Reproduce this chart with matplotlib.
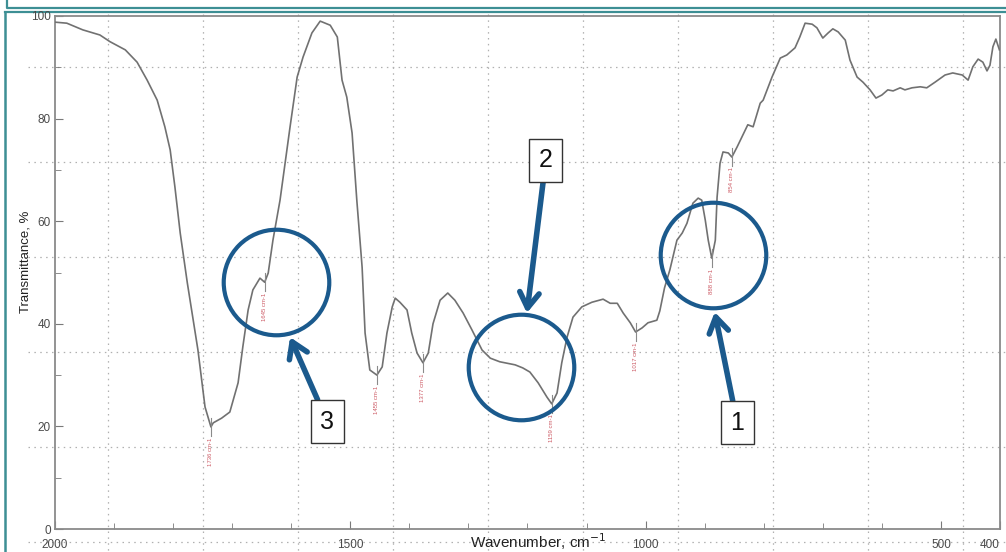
import numpy as np
import matplotlib
matplotlib.use("Agg")
import matplotlib.pyplot as plt
from matplotlib.ticker import MultipleLocator, FixedLocator

plt.rcParams['font.family'] = ['Liberation Sans', 'DejaVu Sans']

# FTIR spectrum, wavenumber (cm-1) vs transmittance (%)
wavenumber = [2000, 1980, 1953, 1924, 1907, 1881, 1861, 1844, 1827, 1814, 1805, 1797,
              1788, 1776, 1758, 1746, 1736, 1732, 1718, 1704, 1690, 1682, 1673, 1665,
              1653, 1645, 1639, 1631, 1619, 1602, 1590, 1580, 1565, 1551, 1534, 1522,
              1514, 1506, 1497, 1489, 1480, 1475, 1467, 1455, 1446, 1438, 1429, 1424,
              1416, 1404, 1396, 1387, 1377, 1368, 1360, 1348, 1335, 1323, 1309, 1294,
              1277, 1263, 1247, 1221, 1208, 1196, 1182, 1167, 1159, 1150, 1142, 1133,
              1123, 1108, 1091, 1072, 1060, 1048, 1038, 1026, 1017, 1006, 996, 981,
              976, 968, 959, 947, 938, 930, 920, 911, 905, 899, 894, 888, 882, 879,
              874, 869, 860, 854, 845, 837, 827, 818, 806, 801, 786, 772, 761, 747,
              739, 730, 718, 710, 700, 691, 683, 674, 662, 654, 642, 632, 620, 610,
              600, 590, 581, 569, 561, 549, 535, 524, 510, 493, 480, 464, 454, 446,
              437, 429, 422, 417, 412, 407, 401]
transmittance = [98.8, 98.6, 97.3, 96.3, 95.0, 93.4, 91.0, 87.5, 83.6, 78.4, 73.9, 66.7,
                 57.7, 48.0, 34.9, 23.8, 19.9, 20.7, 21.6, 22.8, 28.5, 35.5, 42.7, 46.6,
                 48.9, 48.1, 49.9, 56.3, 64.1, 78.4, 88.1, 92.0, 96.7, 99.0, 98.2, 95.9,
                 87.5, 84.2, 77.2, 64.1, 51.0, 38.2, 31.0, 30.0, 31.6, 38.2, 43.3, 45.0,
                 44.2, 42.7, 38.2, 34.3, 32.4, 34.3, 40.0, 44.6, 46.0, 44.6, 42.1, 38.8,
                 34.9, 33.3, 32.6, 32.0, 31.4, 30.6, 28.5, 25.7, 24.4, 26.5, 32.4, 37.4,
                 41.3, 43.3, 44.2, 44.8, 44.0, 44.0, 42.1, 40.2, 38.4, 39.2, 40.2, 40.7,
                 42.5, 47.0, 50.5, 56.3, 57.7, 59.6, 63.5, 64.5, 64.1, 60.2, 56.3, 52.8, 56.3, 64.7,
                 71.3, 73.5, 73.3, 72.5, 74.5, 76.4, 78.8, 78.4, 83.0, 83.6, 88.1, 91.8, 92.4, 93.8,
                 95.9, 98.6, 98.4, 97.7, 95.7, 96.7, 97.5, 96.9, 95.3, 91.4, 88.1, 87.1, 85.6, 84.0,
                 84.6, 85.6, 85.4, 86.0, 85.6, 86.0, 86.2, 86.0, 87.1, 88.5, 88.9, 88.5, 87.5, 90.1,
                 91.6, 91.0, 89.3, 90.4, 94.0, 95.5, 93.4]

# labelled absorption bands
peaks = [1736, 1645, 1455, 1377, 1159, 1017, 888, 854]
peak_labels = ['1736 cm-1', '1645 cm-1', '1455 cm-1', '1377 cm-1',
               '1159 cm-1', '1017 cm-1', '888 cm-1', '854 cm-1']

# circled regions and their numbered call-outs
circle_centers = [(886, 53.4), (1211, 31.6), (1626, 48.1)]
box_numbers = ['1', '2', '3']
box_centers = [(845, 20.7), (1169, 71.9), (1539, 20.9)]
arrow_tips = [(883, 42.3), (1201, 42.1), (1602, 37.4)]

W, H = 1006, 552
fig = plt.figure(figsize=(W / 100, H / 100), dpi=100, facecolor='white')

# background layer in pixel units: teal frame and dotted overlay grid
bg = fig.add_axes([0, 0, 1, 1], zorder=0)
bg.set_xlim(0, W)
bg.set_ylim(H, 0)
bg.axis('off')
teal = '#3d8f94'
bg.plot([7, 7, W], [0, 8, 8], color=teal, lw=1.6, solid_capstyle='butt')
bg.plot([5, W], [11.5, 11.5], color=teal, lw=1.6)
bg.plot([5, 5], [11.5, H], color=teal, lw=1.8)
grid_kw = dict(color='#b0b0b0', lw=0.9, ls=(0, (1.2, 3.5)))
for gx in np.arange(108, W, 95):
    bg.plot([gx, gx], [14, H], **grid_kw)
for gy in np.arange(67, H, 95):
    bg.plot([28, W], [gy, gy], **grid_kw)

ax = fig.add_axes([55 / W, 23 / H, 945 / W, 513 / H], zorder=1)
ax.set_facecolor('none')
ax.plot(wavenumber, transmittance, color='#717171', lw=1.2, zorder=3)
ax.set_xlim(2000, 400)
ax.set_ylim(0, 100)

for s in ax.spines.values():
    s.set_color('#8a8a8a')
    s.set_linewidth(1.3)

ax.xaxis.set_major_locator(FixedLocator([2000, 1500, 1000, 500, 400]))
ax.xaxis.set_minor_locator(MultipleLocator(100))
ax.yaxis.set_major_locator(MultipleLocator(20))
ax.yaxis.set_minor_locator(MultipleLocator(10))
ax.tick_params(which='both', direction='in', color='#7a7a7a', labelcolor='#4a4a4a',
               labelsize=8.5)
ax.tick_params(axis='x', which='major', length=6, pad=7)
ax.tick_params(axis='x', which='minor', length=4)
ax.tick_params(axis='y', which='major', length=6, pad=3)
ax.tick_params(axis='y', which='minor', length=4)
# last label sits at the right edge of the figure
ax.get_xticklabels()[-1].set_ha('right')

ax.set_xlabel('Wavenumber, cm$^{-1}$', fontsize=11, color='#222222')
ax.xaxis.set_label_coords(0.511, -0.024)
ax.xaxis.label.set_va('center')
ax.set_ylabel('Transmittance, %', fontsize=9.5, color='#222222')
ax.yaxis.set_label_coords(-0.031, 0.52)
ax.yaxis.label.set_va('center')

# peak markers with vertical labels
red = '#cc5a64'
for wn, lab in zip(peaks, peak_labels):
    t = np.interp(wn, wavenumber[::-1], transmittance[::-1])
    ax.plot([wn, wn], [t + 1.8, t - 1.8], color='#8a8a8a', lw=0.8, zorder=3)
    ax.text(wn, t - 2.0, lab, rotation=90, ha='center', va='top', fontsize=4.3,
            color=red, zorder=3)

blue = '#1b5a8d'
for cx, cy in circle_centers:
    ax.plot(cx, cy, 'o', ms=76, mfc='none', mec=blue, mew=3, zorder=4)

for num, (bx, by), (tx, ty) in zip(box_numbers, box_centers, arrow_tips):
    ax.annotate(num, xy=(tx, ty), xytext=(bx, by), ha='center', va='center',
                fontsize=18, color='#111111', zorder=5,
                bbox=dict(boxstyle='square,pad=0.38', fc='white', ec='#333333', lw=1),
                arrowprops=dict(arrowstyle='->,head_length=0.55,head_width=0.35',
                                color=blue, lw=4, mutation_scale=20,
                                shrinkA=0, shrinkB=0))

fig.savefig('out.png', dpi=100, facecolor='white')
